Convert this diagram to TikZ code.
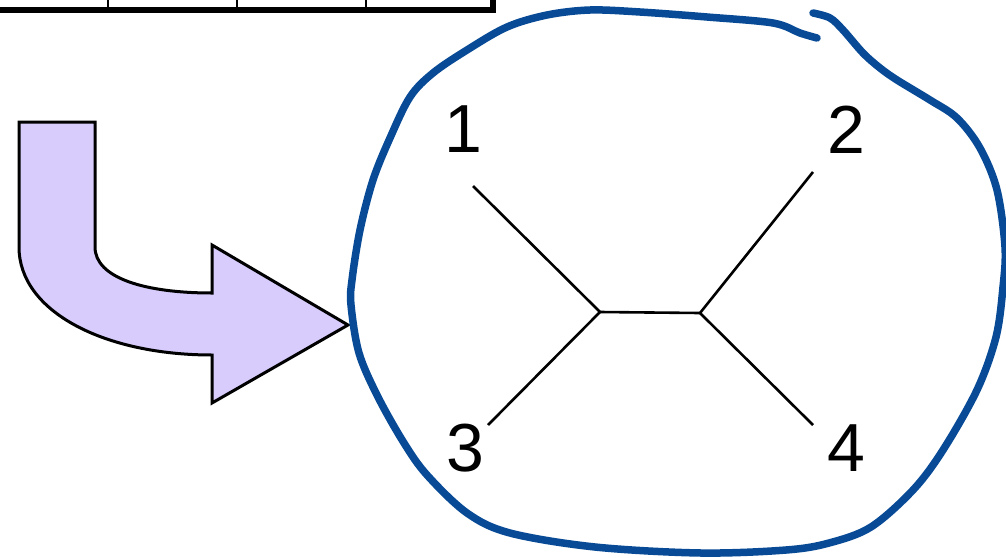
\documentclass[tikz,border=0pt]{standalone}
\usepackage{fontspec}
\setmainfont{Liberation Sans}
\definecolor{loopblue}{RGB}{8,74,150}
\definecolor{arrowfill}{RGB}{216,204,252}
\tikzset{
  leaflabel/.style={inner sep=0pt, font=\fontsize{68}{68}\selectfont},
  branch/.style={line width=2.6pt, black},
  tablerule/.style={black},
  bigarrow/.style={draw=black, line width=3pt, fill=arrowfill, line join=miter},
  hand/.style={draw=loopblue, line width=7.5pt, line cap=round, line join=round}
}
\begin{document}
\begin{tikzpicture}[x=1pt, y=-1pt]
\useasboundingbox (0,0) rectangle (1006,557);

% bottom edge of the table above
\draw[tablerule, line width=2.6pt] (108,0) -- (108,10);
\draw[tablerule, line width=2.6pt] (237,0) -- (237,10);
\draw[tablerule, line width=2.6pt] (366,0) -- (366,10);
\draw[tablerule, line width=5.5pt] (0,9.8) -- (493,9.8);
\draw[tablerule, line width=6pt] (493,0) -- (493,12.5);

% bent block arrow
\draw[bigarrow] (19,122) -- (95,122) -- (95,247)
  .. controls (95,278) and (145,293) .. (212,293)
  -- (212,245) -- (348,325) -- (212,403) -- (212,355)
  .. controls (105,355) and (19,312) .. (19,247) -- cycle;

% hand-drawn loop round the tree
\draw[hand] plot[smooth, tension=0.55] coordinates {
  (817,38) (800,33) (773,23) (707,17) (640,12) (590,10) (547,15)
  (507,27) (467,50) (433,73) (410,97) (390,138) (373,180) (360,230)
  (352,280) (351,305) (359,353) (378,397) (404,443) (427,475)
  (467,513) (510,533) (595,547) (701,553) (786,550) (829,543)
  (871,527) (913,490) (943,450) (977,390) (996,337) (1003,287)
  (1005,247) (997,190) (980,148) (957,118) (930,100) (897,80)
  (880,68) (863,53) (843,30) (830,18) (813,13)};

% unrooted tree
\coordinate (u) at (600,312);
\coordinate (v) at (700,313);
\coordinate (e1) at (473,186);
\coordinate (e2) at (813,172);
\coordinate (e3) at (488,425);
\coordinate (e4) at (813,425);
\draw[branch] (e1) -- (u) -- (e3);
\draw[branch] (u) -- (v);
\draw[branch] (e2) -- (v) -- (e4);

\node[leaflabel] (l1) at (463,129) {1};
\node[leaflabel] (l2) at (846,130) {2};
\node[leaflabel] (l3) at (465,448) {3};
\node[leaflabel] (l4) at (846,448) {4};
\end{tikzpicture}
\end{document}
